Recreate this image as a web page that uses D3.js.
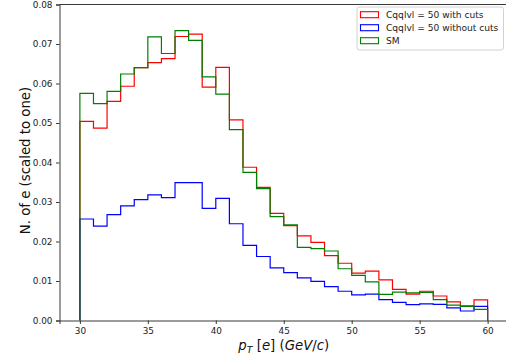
<!DOCTYPE html>
<html>
<head>
<meta charset="utf-8">
<script src="https://cdn.jsdelivr.net/npm/d3@7"></script>
<style>
  body { margin: 0; background: #fff; }
  svg { display: block; font-family: 'DejaVu Sans', sans-serif; }
</style>
</head>
<body>
<div id="chart"></div>
<script>
// bin edges: 30..60, width 1
const binEdges = d3.range(30, 61, 1);

const withCuts = [0.0504, 0.0487, 0.0555, 0.0593, 0.0640, 0.0653, 0.0663, 0.0719, 0.0725, 0.0591,
  0.0641, 0.0508, 0.0388, 0.0337, 0.0271, 0.0240, 0.0214, 0.0198, 0.0164, 0.0145,
  0.0120, 0.0125, 0.0103, 0.0079, 0.0067, 0.0074, 0.0062, 0.0047, 0.0037, 0.0052];

const withoutCuts = [0.0257, 0.0239, 0.0268, 0.0290, 0.0306, 0.0318, 0.0311, 0.0349, 0.0349, 0.0284,
  0.0309, 0.0245, 0.0190, 0.0162, 0.0133, 0.0121, 0.0108, 0.0099, 0.0086, 0.0074,
  0.0065, 0.0067, 0.0053, 0.0046, 0.0040, 0.0042, 0.0041, 0.0032, 0.0024, 0.0036];

const sm = [0.0575, 0.0549, 0.0580, 0.0624, 0.0640, 0.0718, 0.0676, 0.0734, 0.0709, 0.0617,
  0.0573, 0.0483, 0.0375, 0.0334, 0.0263, 0.0242, 0.0185, 0.0182, 0.0176, 0.0131,
  0.0114, 0.0098, 0.0066, 0.0072, 0.0070, 0.0071, 0.0053, 0.0039, 0.0036, 0.0028];

const seriesNames = ['Cqqlvl = 50 with cuts', 'Cqqlvl = 50 without cuts', 'SM'];
const seriesColors = ['#ff0000', '#0000ff', '#008000'];
const xTicks = [30, 35, 40, 45, 50, 55, 60];
const yTicks = [0, 0.01, 0.02, 0.03, 0.04, 0.05, 0.06, 0.07, 0.08];

const width = 506, height = 364;
const plot = { left: 59.5, right: 508, top: 4.5, bottom: 320.5 };

const svg = d3.select('#chart').append('svg')
  .attr('width', width).attr('height', height);

const x = d3.scaleLinear().domain([28.5, 61.5]).range([plot.left, plot.right]);
const y = d3.scaleLinear().domain([0, 0.08]).range([plot.bottom, plot.top]);

// step outline like matplotlib histtype='step'
const stepPoints = vals => {
  const pts = [[binEdges[0], 0]];
  vals.forEach((v, i) => {
    pts.push([binEdges[i], v]);
    pts.push([binEdges[i + 1], v]);
  });
  pts.push([binEdges[binEdges.length - 1], 0]);
  return pts;
};

const line = d3.line().x(d => x(d[0])).y(d => y(d[1]));

const clip = svg.append('clipPath').attr('id', 'clip')
  .append('rect')
  .attr('x', plot.left).attr('y', plot.top)
  .attr('width', plot.right - plot.left).attr('height', plot.bottom - plot.top);

[withCuts, withoutCuts, sm].forEach((vals, i) => {
  svg.append('path')
    .attr('clip-path', 'url(#clip)')
    .attr('d', line(stepPoints(vals)))
    .attr('fill', 'none')
    .attr('stroke', seriesColors[i])
    .attr('stroke-width', 1.2)
    .attr('stroke-linejoin', 'miter');
});

// axes
svg.append('g')
  .attr('transform', `translate(0,${plot.bottom})`)
  .call(d3.axisBottom(x).tickValues(xTicks).tickSizeOuter(0).tickSize(3.5).tickPadding(3.5).tickFormat(d3.format('d')))
  .call(g => g.selectAll('text').attr('font-size', 8.9).attr('fill', '#222').attr('font-family', 'DejaVu Sans'))
  .call(g => g.selectAll('line,path').attr('stroke', '#222').attr('stroke-width', 0.9));

svg.append('g')
  .attr('transform', `translate(${plot.left},0)`)
  .call(d3.axisLeft(y).tickValues(yTicks).tickSizeOuter(0).tickSize(3.5).tickPadding(3.5).tickFormat(d3.format('.2f')))
  .call(g => g.selectAll('text').attr('font-size', 8.9).attr('fill', '#222').attr('font-family', 'DejaVu Sans'))
  .call(g => g.selectAll('line,path').attr('stroke', '#222').attr('stroke-width', 0.9));

// top and right spines
svg.append('line')
  .attr('x1', plot.left).attr('x2', plot.right)
  .attr('y1', plot.top).attr('y2', plot.top)
  .attr('stroke', '#222').attr('stroke-width', 0.9);
svg.append('line')
  .attr('x1', plot.right).attr('x2', plot.right)
  .attr('y1', plot.top).attr('y2', plot.bottom)
  .attr('stroke', '#222').attr('stroke-width', 0.9);

// axis labels
svg.append('text')
  .attr('transform', `translate(29.5,${(plot.top + plot.bottom) / 2 - 2}) rotate(-90)`)
  .attr('text-anchor', 'middle')
  .attr('font-size', 13.3)
  .attr('fill', '#111')
  .text('N. of e (scaled to one)');

const xl = svg.append('text')
  .attr('x', (plot.left + plot.right) / 2)
  .attr('y', 350)
  .attr('text-anchor', 'middle')
  .attr('font-size', 13.3)
  .attr('fill', '#111');
xl.append('tspan').attr('font-style', 'italic').text('p');
xl.append('tspan').attr('font-style', 'italic').attr('font-size', 9.5).attr('dy', 2.5).text('T');
xl.append('tspan').attr('dy', -2.5).text(' [');
xl.append('tspan').attr('font-style', 'italic').text('e');
xl.append('tspan').text('] (');
xl.append('tspan').attr('font-style', 'italic').text('GeV');
xl.append('tspan').text('/');
xl.append('tspan').attr('font-style', 'italic').text('c');
xl.append('tspan').text(')');

// legend
const legend = svg.append('g').attr('transform', 'translate(357,7)');
legend.append('rect')
  .attr('width', 146.5).attr('height', 43)
  .attr('rx', 2.5)
  .attr('fill', '#fff').attr('fill-opacity', 0.8)
  .attr('stroke', '#ccc').attr('stroke-width', 0.9);

seriesNames.forEach((name, i) => {
  const row = legend.append('g').attr('transform', `translate(0,${7.7 + i * 13})`);
  row.append('rect')
    .attr('x', 3.5).attr('y', -3)
    .attr('width', 18).attr('height', 6)
    .attr('fill', 'none')
    .attr('stroke', seriesColors[i]).attr('stroke-width', 1.1);
  row.append('text')
    .attr('x', 29).attr('y', 3.3)
    .attr('font-size', 9.1)
    .attr('fill', '#222')
    .text(name);
});
</script>
</body>
</html>
